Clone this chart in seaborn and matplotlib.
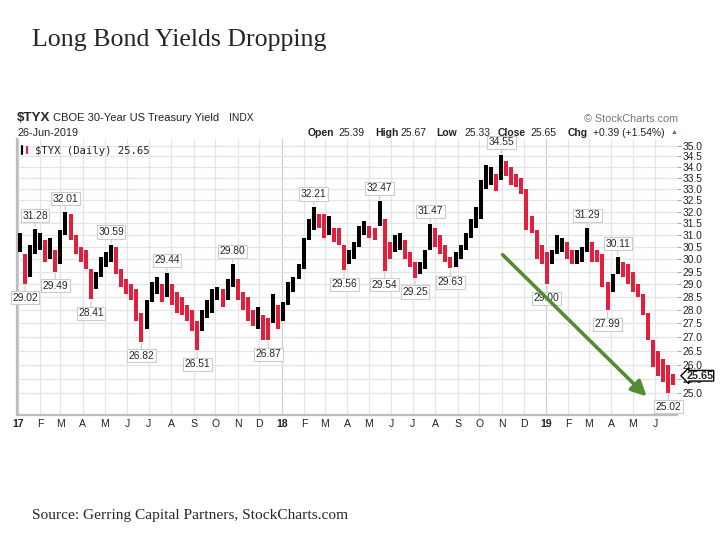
import numpy as np
import pandas as pd
import seaborn as sns
import matplotlib.pyplot as plt
import matplotlib.dates as md
import matplotlib.transforms as mtrans
from matplotlib.ticker import FixedLocator, NullLocator, FuncFormatter

# weekly ranges of $TYX (week ending Friday)
week_end = pd.date_range('2017-01-06', periods=130, freq='W-FRI')
wk_low = [30.3, 29.02, 29.3, 30.2, 30.4, 29.9, 30.0, 29.49, 29.8, 31.0,
          30.8, 30.2, 29.9, 29.6, 28.41, 28.8, 29.3, 29.7, 29.9, 29.4,
          28.9, 28.6, 28.4, 27.6, 26.82, 27.3, 28.3, 28.6, 28.3, 28.5,
          28.2, 27.9, 27.8, 27.6, 27.2, 26.51, 27.2, 27.7, 27.9, 28.4,
          28.1, 28.4, 28.9, 28.4, 28.0, 27.6, 27.4, 27.3, 26.9, 26.87,
          27.5, 27.3,
          27.6, 28.2, 28.7, 29.2, 29.6, 30.8, 31.2, 31.3, 30.9, 31.0,
          30.7, 30.6, 29.56, 29.8, 30.0, 30.5, 31.0, 30.9, 30.8, 31.4,
          29.54, 30.0, 30.3, 30.4, 30.0, 29.7, 29.25, 29.4, 29.6, 30.4,
          30.5, 30.2, 29.9, 29.63, 29.7, 30.0, 30.4, 30.9, 31.3, 31.7,
          33.0, 33.2, 32.9, 33.4, 33.6, 33.2, 33.1, 32.8, 31.2, 31.1,
          30.0, 29.8,
          29.00, 29.8, 30.2, 30.3, 30.0, 29.8, 29.8, 29.9, 30.3, 29.9,
          29.9, 28.9, 27.99, 28.7, 29.4, 29.3, 29.0, 28.7, 28.5, 27.8,
          26.9, 25.9, 25.6, 25.4, 25.02, 25.3]
wk_high = [31.1, 30.2, 30.6, 31.28, 31.1, 30.8, 30.9, 30.4, 31.2, 32.01,
           31.9, 31.0, 30.5, 30.4, 29.6, 29.5, 30.1, 30.3, 30.59, 30.5,
           29.6, 29.2, 29.0, 28.8, 27.9, 28.4, 29.1, 29.3, 29.0, 29.44,
           29.0, 28.7, 28.5, 28.2, 28.0, 27.6, 28.0, 28.4, 28.8, 28.9,
           28.8, 29.2, 29.80, 29.2, 28.7, 28.5, 28.0, 28.1, 27.8, 27.7,
           28.6, 28.2,
           28.3, 29.1, 29.3, 29.8, 30.9, 31.7, 32.21, 31.9, 31.9, 31.8,
           31.3, 31.3, 30.6, 30.4, 30.7, 31.4, 31.6, 31.4, 31.3, 32.47,
           31.7, 30.7, 31.0, 31.1, 30.8, 30.3, 29.9, 29.9, 30.4, 31.47,
           31.3, 31.0, 30.6, 30.1, 30.3, 30.6, 31.1, 31.7, 32.2, 33.4,
           34.1, 34.0, 33.7, 34.55, 34.3, 34.0, 33.7, 33.5, 33.0, 31.8,
           31.2, 30.6,
           30.3, 30.4, 31.0, 30.9, 30.7, 30.4, 30.4, 30.5, 31.29, 30.7,
           30.4, 30.2, 29.1, 29.4, 30.11, 29.9, 29.8, 29.5, 29.0, 28.6,
           27.9, 26.9, 26.5, 26.2, 26.0, 25.67]
last_date = '2019-06-26'
last_close = 25.65

# labelled swing highs / lows (week index)
peak_idx = [3, 9, 18, 29, 42, 58, 71, 81, 95, 112, 118]
trough_idx = [1, 7, 14, 24, 35, 49, 64, 72, 78, 85, 104, 116, 128]

months = pd.date_range('2017-01-01', '2019-06-01', freq='MS')
y_ticks = [25.0 + 0.5 * i for i in range(21)]

# plotting
sns.set_style("white")
plt.rcParams['font.family'] = ['Liberation Sans', 'DejaVu Sans']

fig = plt.figure(figsize=(7.2, 5.4), dpi=100)
ax = fig.add_axes([0.0236, 0.2315, 0.9167, 0.5111])

xs = [d - pd.Timedelta(days=2) for d in week_end]
xs[-1] = pd.Timestamp(last_date) - pd.Timedelta(days=1)
xs = md.date2num(xs)
mid = (np.array(wk_low) + np.array(wk_high)) / 2
cols = ['black' if i == 0 or mid[i] >= mid[i - 1] else '#e0203c' for i in range(len(mid))]
ax.vlines(xs, wk_low, wk_high, colors=cols, linewidth=2.9, zorder=3)

ax.set_yscale('log')
ax.set_ylim(24.28, 35.33)
ax.set_xlim(md.date2num(pd.Timestamp('2016-12-31')), md.date2num(pd.Timestamp('2019-07-01')))

# grid
for m in months:
    ax.axvline(md.date2num(m), color='#cfcfcf' if m.month == 1 else '#e4e4e4', lw=0.9, zorder=1)
for t in y_ticks:
    ax.axhline(t, color='#e4e4e4', lw=0.9, zorder=1)

ax.yaxis.tick_right()
ax.yaxis.set_major_locator(FixedLocator(y_ticks))
ax.yaxis.set_minor_locator(NullLocator())
ax.yaxis.set_major_formatter(FuncFormatter(lambda v, p: '%.1f' % v))
ax.yaxis.set_minor_formatter(FuncFormatter(lambda v, p: ''))
ax.tick_params(axis='y', which='major', length=3, width=0.6, color='#999999', pad=1,
               labelsize=7.4, labelcolor='#222222', right=True, left=False)

ax.set_xticks(md.date2num(months))
ax.set_xticklabels([('%02d' % (m.year % 100)) if m.month == 1 else m.strftime('%b')[0] for m in months])
for lab, m in zip(ax.get_xticklabels(), months):
    if m.month == 1:
        lab.set_fontweight('bold')
        lab.set_fontsize(8.5)
ax.tick_params(axis='x', length=0, pad=3, labelsize=7.6, labelcolor='#222222')

for s in ['top', 'right']:
    ax.spines[s].set_visible(False)
for s in ['left', 'bottom']:
    ax.spines[s].set_color('#bdbdbd')
    ax.spines[s].set_linewidth(1.6)

# swing labels
box = dict(boxstyle='square,pad=0.15', fc='white', ec='#cccccc', lw=0.8)
for i in peak_idx:
    ax.annotate('%.2f' % wk_high[i], (xs[i], wk_high[i]), xytext=(0, 8), textcoords='offset pixels',
                ha='center', va='bottom', fontsize=7.4, bbox=box, zorder=5,
                arrowprops=dict(arrowstyle='-', color='#cccccc', lw=0.8, shrinkA=0, shrinkB=1))
for i in trough_idx:
    ax.annotate('%.2f' % wk_low[i], (xs[i], wk_low[i]), xytext=(0, -9), textcoords='offset pixels',
                ha='center', va='top', fontsize=7.4, bbox=box, zorder=5,
                arrowprops=dict(arrowstyle='-', color='#cccccc', lw=0.8, shrinkA=0, shrinkB=1))

# trend arrow
ax.annotate('', xy=(md.date2num(pd.Timestamp('2019-05-20')), 24.9),
            xytext=(md.date2num(pd.Timestamp('2018-11-02')), 30.19),
            arrowprops=dict(arrowstyle='-|>,head_length=0.9,head_width=0.45', color='#4f8f32', lw=2.6,
                            shrinkA=0, shrinkB=0),
            zorder=6)

# last value marker (covers the 25.5 tick label, as on the original)
tr = mtrans.blended_transform_factory(ax.transAxes, ax.transData)
ax.text(1.014, last_close - 0.04, '%.2f' % last_close, transform=tr, ha='left', va='center',
        fontsize=7.8, fontweight='bold', zorder=7, clip_on=False,
        bbox=dict(boxstyle='larrow,pad=0.03', fc='white', ec='black', lw=1.0))

# legend line
ax.text(0.027, 0.975, '$TYX (Daily) 25.65', transform=ax.transAxes, ha='left', va='top',
        fontsize=7.6, family='DejaVu Sans Mono', color='#222222', zorder=7)
ax.plot([0.008, 0.008], [0.945, 0.975], transform=ax.transAxes, color='black', lw=1.6, clip_on=False)
ax.plot([0.015, 0.015], [0.95, 0.972], transform=ax.transAxes, color='#e0203c', lw=1.6, clip_on=False)

# header
fig.text(17 / 720, 1 - 118 / 540, '$TYX', fontsize=9.6, fontweight='bold', va='center', ha='left')
fig.text(53 / 720, 1 - 118 / 540, 'CBOE 30-Year US Treasury Yield', fontsize=8.0, va='center', ha='left', color='#222222')
fig.text(229 / 720, 1 - 118 / 540, 'INDX', fontsize=7.4, va='center', ha='left', color='#222222')
fig.text(17 / 720, 1 - 133 / 540, '26-Jun-2019', fontsize=7.8, va='center', ha='left', color='#222222')
fig.text(678 / 720, 1 - 119 / 540, '\u00a9 StockCharts.com', fontsize=7.8, va='center', ha='right', color='#777777')

ohlc = [('Open', 308), ('25.39', 338), ('High', 375), ('25.67', 400), ('Low', 436), ('25.33', 464),
        ('Close', 498), ('25.65', 530), ('Chg', 568), ('+0.39 (+1.54%)', 593)]
for k, (s, px) in enumerate(ohlc):
    fig.text(px / 720, 1 - 133 / 540, s, fontsize=7.5, va='center', ha='left', color='#222222',
             fontweight='bold' if k % 2 == 0 else 'normal')
fig.text(674 / 720, 1 - 132 / 540, '\u25b2', fontsize=5.0, va='center', ha='center', color='#3a8a3a')

# title & source
fig.text(32 / 720, 1 - 40 / 540, 'Long Bond Yields Dropping', fontsize=18.6, va='center', ha='left',
         family=['Liberation Serif', 'DejaVu Serif'])
fig.text(32 / 720, 1 - 516 / 540, 'Source: Gerring Capital Partners, StockCharts.com', fontsize=11.1,
         va='center', ha='left', family=['Liberation Serif', 'DejaVu Serif'])

fig.savefig('out.png', dpi=100)
